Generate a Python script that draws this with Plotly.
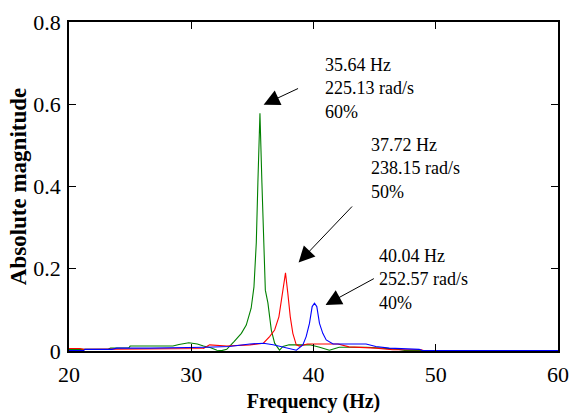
import plotly.graph_objects as go

# ---- data ----
green_x = [20, 23.2, 23.4, 24.9, 25.0, 28.5, 29.0, 29.8, 30.5, 31.0, 31.6, 32.1, 32.5, 32.9,
           33.5, 34.1, 34.5, 34.9, 35.13, 35.32, 35.45, 35.62, 35.78, 35.94, 36.06, 36.27,
           36.55, 36.82, 37.22, 37.5, 38.0, 38.6, 39.7, 40.5, 41.3, 42.1, 44.3, 45.6, 47.0,
           47.5, 60]
green_y = [0.004, 0.004, 0.007, 0.008, 0.012, 0.012, 0.016, 0.020, 0.017, 0.012, 0.008,
           0.002, 0.001, 0.004, 0.023, 0.043, 0.063, 0.104, 0.156, 0.263, 0.409, 0.578,
           0.409, 0.263, 0.148, 0.117, 0.051, 0.019, 0.002, 0.011, 0.015, 0.015, 0.015,
           0.009, 0.002, 0.009, 0.009, 0.007, 0.004, 0.001, 0.001]

red_x = [20, 20.9, 21.2, 28, 31.0, 31.5, 32.3, 32.9, 34.8, 35.9, 36.41, 36.82, 37.17, 37.44,
         37.71, 37.90, 38.10, 38.31, 38.59, 38.86, 39.5, 42.0, 42.9, 45.1, 46.5, 48.8, 49.0, 60]
red_y = [0.006, 0.006, 0.004, 0.005, 0.006, 0.015, 0.014, 0.012, 0.015, 0.019, 0.035, 0.051,
         0.083, 0.14, 0.19, 0.14, 0.083, 0.043, 0.015, 0.012, 0.017, 0.017, 0.010, 0.007,
         0.003, 0.003, 0.001, 0.001]

blue_x = [20, 21.2, 21.3, 23.5, 23.9, 26.6, 31.2, 33.1, 34.8, 35.9, 36.7, 37.5, 38.6, 39.13,
          39.40, 39.67, 39.89, 40.08, 40.27, 40.49, 40.76, 41.04, 41.44, 41.6, 44.3, 45.1,
          46.2, 48.65, 48.9, 60]
blue_y = [0.001, 0.001, 0.004, 0.004, 0.007, 0.007, 0.009, 0.011, 0.017, 0.019, 0.015, 0.009,
          0.002, 0.015, 0.035, 0.067, 0.108, 0.116, 0.108, 0.067, 0.043, 0.027, 0.019, 0.017,
          0.017, 0.011, 0.007, 0.004, 0.001, 0.001]

x_ticks = [20, 30, 40, 50, 60]
y_ticks = [0, 0.2, 0.4, 0.6, 0.8]
y_tick_labels = ["0", "0.2", "0.4", "0.6", "0.8"]

labels = ["35.64 Hz<br>225.13 rad/s<br>60%",
          "37.72 Hz<br>238.15 rad/s<br>50%",
          "40.04 Hz<br>252.57 rad/s<br>40%"]
label_pos = [(40.8, 0.638), (44.5, 0.443), (45.2, 0.175)]
arrow_tips = [(35.92, 0.599), (38.78, 0.215), (40.98, 0.112)]
arrow_tails = [(38.86, 0.640), (43.27, 0.355), (45.06, 0.178)]

FONT = "Liberation Serif, Times New Roman, serif"

fig = go.Figure()
for xs, ys, c in [(green_x, green_y, "#008000"), (red_x, red_y, "#ff0000"), (blue_x, blue_y, "#0000ff")]:
    fig.add_trace(go.Scatter(x=xs, y=ys, mode="lines", line=dict(color=c, width=1.1),
                             showlegend=False, hoverinfo="skip"))

for txt, (lx, ly) in zip(labels, label_pos):
    fig.add_annotation(x=lx, y=ly, xref="x", yref="y", text=txt, showarrow=False,
                       xanchor="left", yanchor="middle", align="left",
                       font=dict(family=FONT, size=18, color="black"))

for (tx, ty), (sx, sy) in zip(arrow_tips, arrow_tails):
    fig.add_annotation(x=tx, y=ty, xref="x", yref="y", ax=sx, ay=sy, axref="x", ayref="y",
                       text="", showarrow=True, arrowhead=2, arrowsize=3.2, arrowwidth=1,
                       arrowcolor="black", standoff=0, startstandoff=0)

fig.update_layout(
    width=569, height=414, autosize=False,
    margin=dict(l=69, r=11, t=22, b=63, autoexpand=False),
    paper_bgcolor="white", plot_bgcolor="white",
    font=dict(family=FONT, color="black", size=22),
    xaxis=dict(range=[20, 60], tickvals=x_ticks, ticks="inside", ticklen=7, tickcolor="black",
               showline=True, linecolor="black", linewidth=1.5, mirror="ticks",
               showgrid=False, zeroline=False, tickfont=dict(size=22), ticklabelstandoff=3,
               automargin=False, ticklabeloverflow="allow",
               title=dict(text="<b>Frequency (Hz)</b>", font=dict(size=20), standoff=8)),
    yaxis=dict(range=[0, 0.8], tickvals=y_ticks, ticktext=y_tick_labels, ticks="inside",
               ticklen=7, tickcolor="black", showline=True, linecolor="black", linewidth=1.5,
               mirror="ticks", showgrid=False, zeroline=False, tickfont=dict(size=22),
               ticklabelstandoff=2, automargin=False, ticklabeloverflow="allow",
               title=dict(text="<b>Absolute magnitude</b>", font=dict(size=23), standoff=0)),
)

fig.write_html("out.html", config={"displayModeBar": False},
               post_script="document.body.style.margin='0';document.body.style.overflow='hidden';"
                           "document.documentElement.style.overflow='hidden';")
